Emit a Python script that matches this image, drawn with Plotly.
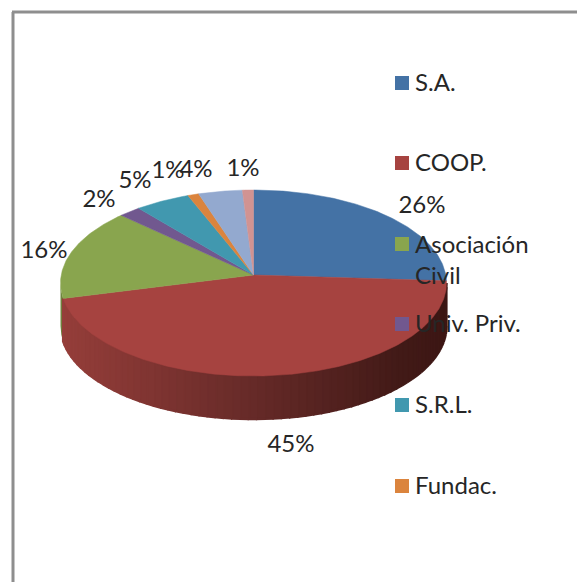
import numpy as np
import plotly.graph_objects as go

categories = ["S.A.", "COOP.", "Asociación Civil", "Univ. Priv.", "S.R.L.", "Fundac.", "Otros", "Otras"]
shares = [26, 45, 16, 2, 5, 1, 4, 1]
colors = ["#4472A5", "#A64340", "#89A54E", "#71588F", "#4198AF", "#DB843D", "#93A9CF", "#D19392"]

# label anchor pixels
label_xy = [(422, 206.5), (291, 445.5), (44, 252), (99, 201), (135, 182), (168, 172), (196, 171), (243, 170)]
legend_rows = [83, 163, 244, 324, 405, 486]

W, H = 577, 582
CX, CY, RX, RY, DEPTH, E = 253.5, 283.0, 193.0, 93.0, 43.0, 0.086
FONT = "Lato"
FS = 24


def rim(theta):
    """Project the pie angle onto the tilted ellipse (with perspective shift of the apex)."""
    c = (np.cos(theta) + E) / (1 + E * np.cos(theta))
    s = np.sin(theta) * np.sqrt(1 - E ** 2) / (1 + E * np.cos(theta))
    return CX + RX * s, CY - RY * c


def wall_colour(x):
    xs = [60, 254, 400, 446]
    r = np.interp(x, xs, [150, 102, 66, 60])
    g = np.interp(x, xs, [62, 42, 26, 22])
    b = np.interp(x, xs, [58, 40, 23, 20])
    return f"rgb({r:.0f},{g:.0f},{b:.0f})"


def ellipse(phi, dy=0.0):
    return CX + RX * np.sin(phi), CY - RY * np.cos(phi) + dy


fig = go.Figure()
total = sum(shares)
edges = 2 * np.pi * np.cumsum([0] + shares) / total

t_end = edges[2]
stop = np.arctan2(
    np.sin(t_end) * np.sqrt(1 - E ** 2) / (1 + E * np.cos(t_end)),
    (np.cos(t_end) + E) / (1 + E * np.cos(t_end)),
) % (2 * np.pi)
start = np.pi / 2

# sliver of the green slice wall at far left
ph = np.linspace(stop, 1.5 * np.pi, 12)
x1, y1 = ellipse(ph)
x2, y2 = ellipse(ph[::-1], DEPTH)
fig.add_trace(go.Scatter(x=np.r_[x1, x2], y=np.r_[y1, y2], mode="lines", fill="toself",
                         fillcolor="#6E843E", line=dict(width=0), hoverinfo="skip", showlegend=False))

# side wall of the COOP. slice, drawn as overlapping strips for the gradient
steps = np.linspace(start, stop, 70)
for a, b in zip(steps[:-1], steps[1:]):
    ph = np.linspace(a, b, 3)
    x1, y1 = ellipse(ph)
    x2, y2 = ellipse(ph[::-1], DEPTH)
    col = wall_colour((x1[0] + x1[-1]) / 2)
    fig.add_trace(go.Scatter(x=np.r_[x1, x2], y=np.r_[y1, y2], mode="lines", fill="toself",
                             fillcolor=col, line=dict(width=2.5, color=col),
                             hoverinfo="skip", showlegend=False))

# top face
apex_x, apex_y = CX, CY - RY * E
for i, name in enumerate(categories):
    t = np.linspace(edges[i], edges[i + 1], max(4, int(shares[i] * 6)))
    x, y = rim(t)
    fig.add_trace(go.Scatter(x=np.r_[apex_x, x, apex_x], y=np.r_[apex_y, y, apex_y], mode="lines",
                             fill="toself", fillcolor=colors[i], line=dict(width=0.5, color=colors[i]),
                             name=name, hoverinfo="name", showlegend=False))

# data labels
fig.add_trace(go.Scatter(x=[p[0] for p in label_xy], y=[p[1] for p in label_xy], mode="text",
                         text=[f"{v}%" for v in shares], textposition="middle center",
                         textfont=dict(family=FONT, size=FS, color="#262626"),
                         hoverinfo="skip", showlegend=False))

# legend (the reference clips it to six rows)
shown = categories[:len(legend_rows)]
fig.add_trace(go.Scatter(x=[402] * len(shown), y=legend_rows, mode="markers",
                         marker=dict(symbol="square", size=14, color=colors[:len(shown)], line=dict(width=0)),
                         hoverinfo="skip", showlegend=False))
for row, name in zip(legend_rows, shown):
    wrapped = name.startswith("Aso")
    fig.add_annotation(x=413, y=row - 1.5 + (16 if wrapped else 0),
                       xref="x", yref="y", xanchor="left", yanchor="middle", align="left", showarrow=False,
                       text=name.replace(" ", "<br>") if wrapped else name,
                       font=dict(family=FONT, size=FS, color="#262626"))

frame = dict(color="#8E8E8E", width=3)
fig.add_shape(type="line", x0=13, x1=13, y0=12, y1=H, xref="x", yref="y", line=frame)
fig.add_shape(type="line", x0=12, x1=W, y0=12, y1=12, xref="x", yref="y", line=frame)

fig.update_layout(
    width=W, height=H, margin=dict(l=0, r=0, t=0, b=0),
    paper_bgcolor="white", plot_bgcolor="white", showlegend=False,
    xaxis=dict(range=[0, W], visible=False, fixedrange=True),
    yaxis=dict(range=[H, 0], visible=False, fixedrange=True),
)
fig.write_html("out.html", config={"displayModeBar": False},
               post_script="document.body.style.margin='0';document.body.style.overflow='hidden';")
